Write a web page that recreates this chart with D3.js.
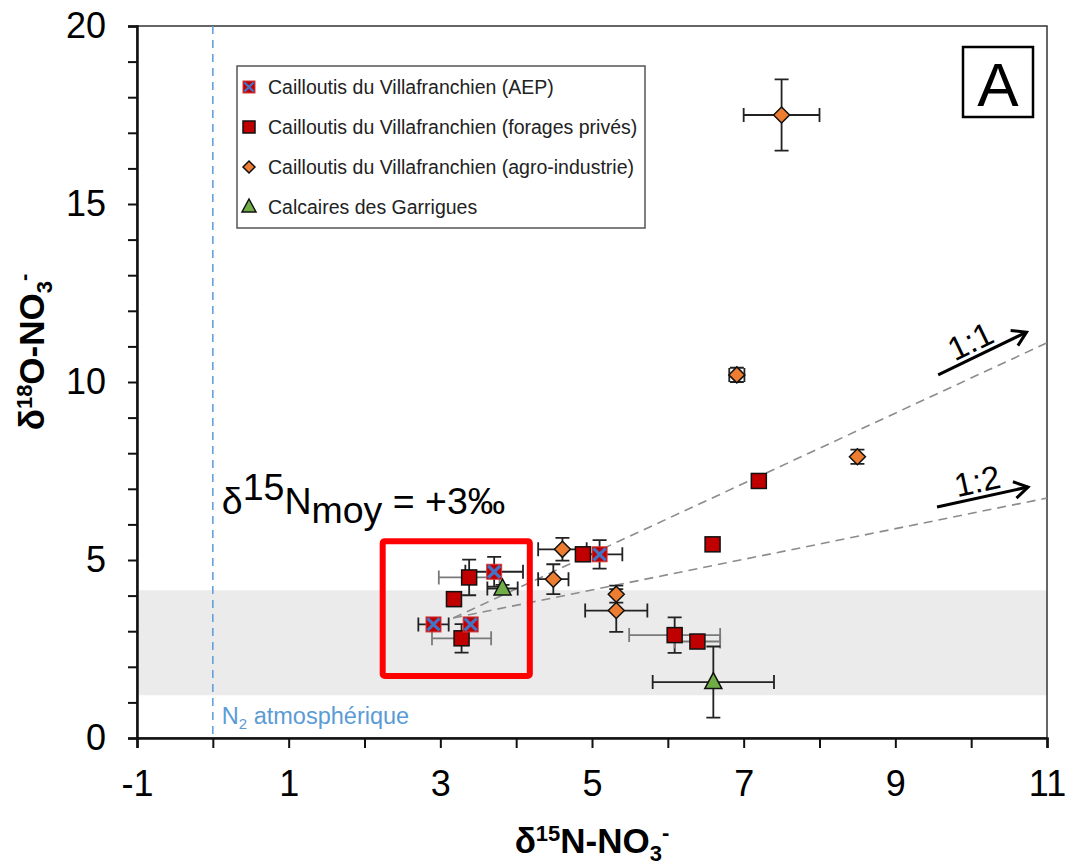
<!DOCTYPE html>
<html><head><meta charset="utf-8">
<script src="https://cdn.jsdelivr.net/npm/d3@7"></script>
<style>body{margin:0;background:#fff} text{font-family:"Liberation Sans",Arial,sans-serif}</style>
</head><body><svg id="c" width="1066" height="868"></svg>
<script>
// ---- data (δ15N, δ18O, x error, y error) ----
const aep      = [[2.91,3.19,0.2,0],[3.40,3.19,0,0],[3.71,4.67,0.38,0.42],[5.10,5.16,0.3,0.4]];
const forages  = [[3.18,3.90,0,0],[3.28,2.80,0.39,0.4],[3.38,4.51,0.4,0.5],[4.88,5.16,0,0],[6.09,2.89,0.6,0.5],[6.39,2.71,0.3,0],[6.59,5.44,0,0],[7.20,7.22,0,0]];
const agro     = [[4.61,5.30,0.32,0.32],[4.49,4.46,0.2,0.42],[5.32,4.04,0,0.24],[5.32,3.58,0.41,0.6],[6.91,10.2,0.1,0.2],[8.50,7.90,0,0.2],[7.50,17.5,0.5,1.0]];
const garrigues= [[3.82,4.20,0.2,0.1],[6.60,1.57,0.8,1.0]];
const seriesNames = ["Cailloutis du Villafranchien (AEP)","Cailloutis du Villafranchien (forages privés)","Cailloutis du Villafranchien (agro-industrie)","Calcaires des Garrigues"];
const xTicks = [-1,0,1,2,3,4,5,6,7,8,9,10,11];
const yTicks = [0,1,2,3,4,5,6,7,8,9,10,11,12,13,14,15,16,17,18,19,20];
const band = [1.2, 4.15];             // grey band δ18O range
const boxN = [2.24, 4.18], boxO = [1.74, 5.53]; // red box
const lineStart = [3.17, 3.37];
const line11End = [11, 11.1], line12End = [11, 6.74];

const W=1066,H=868, m={l:137,r:19,t:26,b:130};
const svg=d3.select("#c");
const x=d3.scaleLinear().domain([-1,11]).range([m.l,W-m.r]);
const y=d3.scaleLinear().domain([0,20]).range([H-m.b,m.t]);

// band
svg.append("rect").attr("x",x(-1)).attr("width",x(11)-x(-1)).attr("y",y(band[1])).attr("height",y(band[0])-y(band[1])).attr("fill","#ebebeb");
// frame
svg.append("rect").attr("x",x(-1)).attr("y",y(20)).attr("width",x(11)-x(-1)).attr("height",y(0)-y(20)).attr("fill","none").attr("stroke","#333").attr("stroke-width",1.5);
// N2 line
svg.append("line").attr("x1",x(0)).attr("x2",x(0)).attr("y1",y(20)).attr("y2",y(0)).attr("stroke","#5b9bd5").attr("stroke-width",1.5).attr("stroke-dasharray","8,6");
svg.append("text").attr("x",x(0)+9).attr("y",y(0)-14).attr("fill","#5b9bd5").attr("font-size",23.5)
  .html('N<tspan font-size="15" dy="5">2</tspan><tspan dy="-5"> atmosphérique</tspan>');

// axes
const ya=svg.append("g").attr("transform",`translate(${x(-1)},0)`)
  .call(d3.axisLeft(y).tickValues(yTicks).tickSize(9).tickPadding(22).tickFormat(d=>d%5===0?String(d):""));
const xa=svg.append("g").attr("transform",`translate(0,${y(0)})`)
  .call(d3.axisBottom(x).tickValues(xTicks).tickSize(10).tickPadding(22).tickFormat(d=>Math.abs(d)%2===1?String(d):""));
[ya,xa].forEach(a=>{a.select(".domain").attr("stroke","#111").attr("stroke-width",2.5);
  a.selectAll(".tick line").attr("stroke","#111").attr("stroke-width",2);
  a.selectAll("text").attr("font-size",36).attr("fill","#000").attr("font-family","Liberation Sans, Arial");});

// axis titles
svg.append("text").attr("x",x(5)).attr("y",853).attr("text-anchor","middle").attr("font-size",35).attr("font-weight","bold")
  .html('δ<tspan font-size="22" dy="-12">15</tspan><tspan dy="12">N-NO</tspan><tspan font-size="22" dy="8">3</tspan><tspan font-size="22" dy="-21">-</tspan>');
svg.append("text").attr("transform",`translate(44,${(y(0)+y(20))/2-30}) rotate(-90)`).attr("text-anchor","middle").attr("font-size",35).attr("font-weight","bold")
  .html('δ<tspan font-size="22" dy="-12">18</tspan><tspan dy="12">O-NO</tspan><tspan font-size="22" dy="8">3</tspan><tspan font-size="22" dy="-21">-</tspan>');

// dashed mixing lines
[line11End,line12End].forEach(e=>svg.append("line").attr("x1",x(lineStart[0])).attr("y1",y(lineStart[1])).attr("x2",x(e[0])).attr("y2",y(e[1]))
  .attr("stroke","#8c8c8c").attr("stroke-width",1.6).attr("stroke-dasharray","9,6"));

// arrows + labels
const arrows=[{s:[9.565,10.2],e:[10.73,11.4],lab:"1:1",lp:[9.99,11.15]},{s:[9.55,6.49],e:[10.75,7.05],lab:"1:2",lp:[10.08,7.22]}];
arrows.forEach(a=>{
  const x1=x(a.s[0]),y1=y(a.s[1]),x2=x(a.e[0]),y2=y(a.e[1]);
  const ang=Math.atan2(y2-y1,x2-x1);
  svg.append("line").attr("x1",x1).attr("y1",y1).attr("x2",x2).attr("y2",y2).attr("stroke","#000").attr("stroke-width",3);
  const L=16,sp=0.55;
  svg.append("path").attr("d",`M${x2-L*Math.cos(ang-sp)},${y2-L*Math.sin(ang-sp)}L${x2},${y2}L${x2-L*Math.cos(ang+sp)},${y2-L*Math.sin(ang+sp)}`)
    .attr("fill","none").attr("stroke","#000").attr("stroke-width",3).attr("stroke-linejoin","miter");
  svg.append("text").attr("transform",`translate(${x(a.lp[0])},${y(a.lp[1])}) rotate(${ang*180/Math.PI})`).attr("text-anchor","middle").attr("dy","0.35em")
    .attr("font-size",33).text(a.lab);
});

// error bars
const cap=7;
function errBars(data,xcol){
  data.forEach(d=>{
    const cx=x(d[0]),cy=y(d[1]);
    if(d[2]>0){const a=x(d[0]-d[2]),b=x(d[0]+d[2]);
      svg.append("path").attr("d",`M${a},${cy}H${b}M${a},${cy-cap}V${cy+cap}M${b},${cy-cap}V${cy+cap}`).attr("stroke",xcol).attr("stroke-width",1.8).attr("fill","none");}
    if(d[3]>0){const a=y(d[1]-d[3]),b=y(d[1]+d[3]);
      svg.append("path").attr("d",`M${cx},${a}V${b}M${cx-cap},${a}H${cx+cap}M${cx-cap},${b}H${cx+cap}`).attr("stroke","#222").attr("stroke-width",1.8).attr("fill","none");}
  });
}
errBars(agro,"#222");errBars(forages,"#7a7a7a");errBars(aep,"#222");errBars(garrigues,"#222");

// markers
function mSquare(g,cx,cy,s){g.append("rect").attr("x",cx-s/2).attr("y",cy-s/2).attr("width",s).attr("height",s).attr("fill","#c00000").attr("stroke","#111").attr("stroke-width",1.5);}
function mAep(g,cx,cy,s){g.append("rect").attr("x",cx-s/2).attr("y",cy-s/2).attr("width",s).attr("height",s).attr("fill","#c00000").attr("stroke","#d43a3a").attr("stroke-width",1);
  const h=s/2-1.5;g.append("path").attr("d",`M${cx-h},${cy-h}L${cx+h},${cy+h}M${cx-h},${cy+h}L${cx+h},${cy-h}`).attr("stroke","#4472c4").attr("stroke-width",s>12?3.2:2.4);}
function mDiamond(g,cx,cy,s){const r=s/2;g.append("path").attr("d",`M${cx},${cy-r}L${cx+r},${cy}L${cx},${cy+r}L${cx-r},${cy}Z`).attr("fill","#ed7d31").attr("stroke","#111").attr("stroke-width",1.5);}
function mTri(g,cx,cy,s){const r=s/2+1;g.append("path").attr("d",`M${cx},${cy-r-1}L${cx+r},${cy+r-2}L${cx-r},${cy+r-2}Z`).attr("fill","#70ad47").attr("stroke","#111").attr("stroke-width",1.5);}
const g=svg.append("g");
agro.forEach(d=>mDiamond(g,x(d[0]),y(d[1]),16));
forages.forEach(d=>mSquare(g,x(d[0]),y(d[1]),15));
aep.forEach(d=>mAep(g,x(d[0]),y(d[1]),15));
garrigues.forEach(d=>mTri(g,x(d[0]),y(d[1]),15));

// red box
svg.append("rect").attr("x",x(boxN[0])).attr("y",y(boxO[1])).attr("width",x(boxN[1])-x(boxN[0])).attr("height",y(boxO[0])-y(boxO[1]))
  .attr("fill","none").attr("stroke","#ff0000").attr("stroke-width",6).attr("rx",2);
svg.append("text").attr("x",x(0)+9).attr("y",y(boxO[1])-27).attr("font-size",37.5)
  .html('δ<tspan dy="-14">15</tspan><tspan dy="14">N</tspan><tspan dy="9">moy</tspan><tspan dy="-9"> = +3‰</tspan>');

// legend
const lg=svg.append("g");
lg.append("rect").attr("x",237).attr("y",66).attr("width",408).attr("height",162).attr("fill","#fff").attr("stroke","#555").attr("stroke-width",1.5);
const mk=[mAep,mSquare,mDiamond,mTri];
seriesNames.forEach((n,i)=>{const cy=87+i*40;mk[i](lg,249,cy,12);
  lg.append("text").attr("x",268).attr("y",cy).attr("dy","0.35em").attr("font-size",19.5).attr("fill","#222").text(n);});

// panel letter
svg.append("rect").attr("x",963).attr("y",47).attr("width",70).attr("height",70).attr("fill","#fff").attr("stroke","#000").attr("stroke-width",2.5);
svg.append("text").attr("x",998).attr("y",106).attr("text-anchor","middle").attr("font-size",62).text("A");
</script></body></html>
